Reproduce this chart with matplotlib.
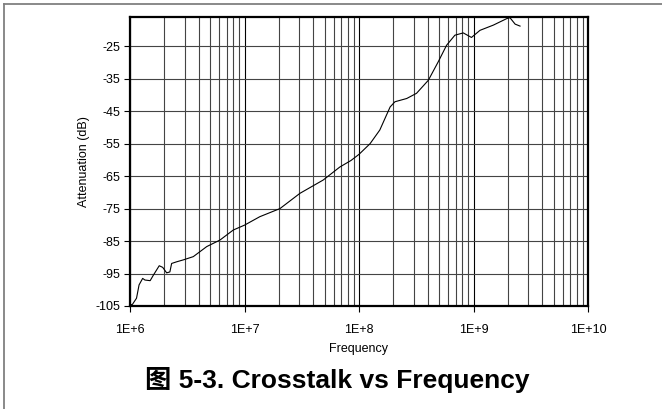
import matplotlib
matplotlib.use("Agg")
import matplotlib.pyplot as plt
from matplotlib.lines import Line2D
from matplotlib.ticker import LogLocator, FixedLocator, NullFormatter

freq = [1.0e6, 1.05e6, 1.14e6, 1.2e6, 1.29e6, 1.35e6, 1.5e6, 1.6e6, 1.8e6,
        1.93e6, 2.09e6, 2.23e6, 2.31e6, 2.55e6, 2.92e6, 3.57e6, 4.68e6,
        6.1e6, 7.98e6, 1.0e7, 1.36e7, 2.04e7, 3.05e7, 4.87e7, 6.8e7,
        8.5e7, 1.0e8, 1.25e8, 1.52e8, 1.87e8, 2.06e8, 2.61e8, 3.18e8,
        4.03e8, 4.92e8, 5.82e8, 6.88e8, 8.14e8, 9.6e8, 1.14e9, 1.49e9,
        1.95e9, 2.08e9, 2.31e9, 2.55e9]
atten = [-104.7, -104.5, -102.6, -98.5, -96.5, -97.0, -97.2, -95.5, -92.6,
         -93.1, -94.8, -94.5, -91.9, -91.4, -90.8, -89.8, -86.7,
         -84.7, -81.6, -80.1, -77.5, -75.0, -70.3, -66.2, -62.2,
         -60.2, -58.3, -55.0, -50.8, -43.7, -42.1, -41.1, -39.5,
         -35.5, -29.8, -24.7, -21.6, -20.9, -22.3, -20.1, -18.5,
         -16.5, -16.2, -18.2, -18.8]

y_ticks = [-105, -95, -85, -75, -65, -55, -45, -35, -25]
x_ticks = [1e6, 1e7, 1e8, 1e9, 1e10]
x_labels = ['1E+6', '1E+7', '1E+8', '1E+9', '1E+10']

plt.rcParams['font.family'] = ['Liberation Sans', 'Noto Sans CJK SC']
plt.rcParams['axes.unicode_minus'] = False

W, H = 662, 409
fig = plt.figure(figsize=(W / 100, H / 100), dpi=100)
ax = fig.add_axes([130 / W, (H - 306) / H, (588 - 130) / W, (306 - 17) / H])

ax.plot(freq, atten, color='black', lw=0.8)
ax.set_xscale('log')
ax.set_xlim(1e6, 1e10)
ax.set_ylim(-105, -16)

ax.xaxis.set_major_locator(FixedLocator(x_ticks))
ax.set_xticklabels(x_labels)
ax.xaxis.set_minor_locator(LogLocator(base=10, subs=range(2, 10)))
ax.xaxis.set_minor_formatter(NullFormatter())
ax.set_yticks(y_ticks)

ax.grid(True, which='major', axis='x', color='black', lw=0.8)
ax.grid(True, which='minor', axis='x', color='#444444', lw=0.8)
ax.grid(True, which='major', axis='y', color='#444444', lw=0.8)

ax.tick_params(axis='both', which='major', direction='out', length=4,
               width=0.8, labelsize=9, pad=3)
ax.tick_params(axis='x', which='major', pad=9)
ax.tick_params(axis='x', which='minor', length=0)
for s in ax.spines.values():
    s.set_linewidth(1.6)
    s.set_color('black')

ax.set_xlabel('Frequency', fontsize=9, labelpad=5)
ax.set_ylabel('Attenuation (dB)', fontsize=9, labelpad=4)

# page frame lines (left and top)
fig.add_artist(Line2D([4 / W, 4 / W], [0, 1 - 4 / H], color='#808080', lw=1.3))
fig.add_artist(Line2D([4 / W, 1], [1 - 4 / H, 1 - 4 / H], color='#808080', lw=1.3))

fig.text(337 / W, 1 - 380 / H, '图 5-3. Crosstalk vs Frequency', ha='center',
         va='center', fontsize=19, fontweight='bold')

fig.savefig('out.png', dpi=100)
